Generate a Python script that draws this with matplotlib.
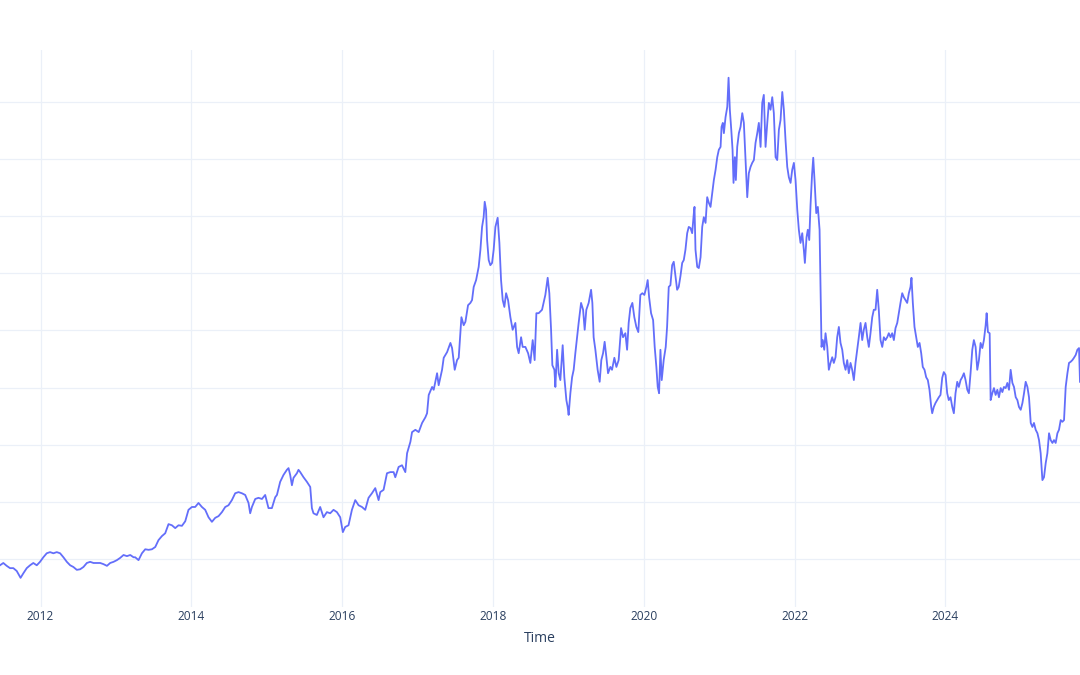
import numpy as np
import pandas as pd
import matplotlib
matplotlib.use("Agg")
import matplotlib.pyplot as plt
import matplotlib.dates as mdates

# ---- data (decimal year, value) ----
t_dec = [
    2011.462, 2011.506, 2011.551, 2011.595, 2011.639, 2011.684, 2011.735, 2011.772, 2011.817, 2011.861,
    2011.904, 2011.950, 2011.993, 2012.037, 2012.082, 2012.126, 2012.170, 2012.215, 2012.259, 2012.303,
    2012.348, 2012.392, 2012.435, 2012.480, 2012.524, 2012.568, 2012.613, 2012.657, 2012.701, 2012.746,
    2012.790, 2012.833, 2012.879, 2012.922, 2012.966, 2013.011, 2013.055, 2013.099, 2013.144, 2013.188,
    2013.232,
    2013.254, 2013.298, 2013.343, 2013.387, 2013.431, 2013.476, 2013.520, 2013.563, 2013.608, 2013.652,
    2013.696, 2013.741, 2013.785, 2013.829, 2013.874, 2013.918, 2013.961, 2014.007, 2014.050, 2014.094,
    2014.139, 2014.183, 2014.227, 2014.272, 2014.316, 2014.360, 2014.405, 2014.449, 2014.492, 2014.537,
    2014.581, 2014.625, 2014.670, 2014.714, 2014.758, 2014.780, 2014.803, 2014.847, 2014.890, 2014.936,
    2014.979, 2015.023, 2015.068, 2015.112,
    2015.135, 2015.178, 2015.222, 2015.267, 2015.289, 2015.311, 2015.334, 2015.355, 2015.400, 2015.421,
    2015.444, 2015.488, 2015.533, 2015.577, 2015.599, 2015.620, 2015.665, 2015.709, 2015.753, 2015.798,
    2015.842, 2015.886, 2015.931, 2015.975, 2016.010, 2016.041, 2016.085, 2016.130, 2016.174, 2016.218,
    2016.263, 2016.306, 2016.350, 2016.395, 2016.439, 2016.483, 2016.505, 2016.549, 2016.594, 2016.638,
    2016.682, 2016.704, 2016.748, 2016.793, 2016.837, 2016.860, 2016.904,
    2016.926, 2016.970, 2017.014, 2017.059, 2017.103, 2017.125, 2017.147, 2017.192, 2017.213, 2017.258,
    2017.279, 2017.324, 2017.346, 2017.391, 2017.435, 2017.457, 2017.492, 2017.523, 2017.545, 2017.581,
    2017.611, 2017.634, 2017.669, 2017.700, 2017.722, 2017.744, 2017.776, 2017.810, 2017.833, 2017.855,
    2017.876, 2017.890, 2017.908, 2017.922, 2017.943, 2017.965, 2017.988, 2018.009, 2018.032, 2018.062,
    2018.085, 2018.107, 2018.129, 2018.151, 2018.174, 2018.200, 2018.231, 2018.261, 2018.297, 2018.320,
    2018.341, 2018.373, 2018.394, 2018.430, 2018.466, 2018.496, 2018.527, 2018.553, 2018.576, 2018.606,
    2018.651, 2018.695,
    2018.726, 2018.748, 2018.771, 2018.788, 2018.815, 2018.828, 2018.851, 2018.872, 2018.894, 2018.925,
    2018.947, 2018.974, 2018.991, 2019.004, 2019.027, 2019.050, 2019.071, 2019.093, 2019.116, 2019.137,
    2019.169, 2019.196, 2019.217, 2019.239, 2019.270, 2019.302, 2019.319, 2019.336, 2019.359, 2019.389,
    2019.416, 2019.438, 2019.461, 2019.482, 2019.505, 2019.527, 2019.558, 2019.580, 2019.611, 2019.638,
    2019.668, 2019.700, 2019.726, 2019.757, 2019.780, 2019.801, 2019.823, 2019.850, 2019.876, 2019.903,
    2019.929, 2019.956, 2019.983, 2020.009, 2020.036, 2020.053, 2020.072, 2020.098, 2020.125, 2020.146,
    2020.168, 2020.186, 2020.204, 2020.222, 2020.239, 2020.265, 2020.292, 2020.310, 2020.332, 2020.354,
    2020.377, 2020.398, 2020.421, 2020.443, 2020.464, 2020.487,
    2020.510, 2020.531, 2020.553, 2020.576, 2020.597, 2020.620, 2020.642, 2020.664, 2020.673, 2020.686,
    2020.709, 2020.730, 2020.753, 2020.775, 2020.796, 2020.819, 2020.841, 2020.863, 2020.885, 2020.908,
    2020.929, 2020.952, 2020.974, 2020.995, 2021.018, 2021.031, 2021.048, 2021.062, 2021.084, 2021.107,
    2021.124, 2021.141, 2021.160, 2021.177, 2021.190, 2021.208, 2021.221, 2021.239, 2021.261, 2021.283,
    2021.306, 2021.327, 2021.350, 2021.372, 2021.393, 2021.416, 2021.438, 2021.460, 2021.482, 2021.505,
    2021.526, 2021.549, 2021.571, 2021.592, 2021.615, 2021.638, 2021.659, 2021.681, 2021.704, 2021.725,
    2021.748, 2021.770, 2021.792, 2021.814, 2021.837, 2021.858, 2021.880, 2021.903, 2021.924, 2021.947,
    2021.969, 2021.991, 2022.013, 2022.036, 2022.057, 2022.079, 2022.102, 2022.123, 2022.137, 2022.159,
    2022.176, 2022.195, 2022.212,
    2022.232, 2022.248, 2022.265, 2022.288, 2022.309, 2022.332, 2022.345, 2022.358, 2022.375, 2022.394,
    2022.411, 2022.434, 2022.455, 2022.477, 2022.500, 2022.521, 2022.544, 2022.566, 2022.588, 2022.610,
    2022.633, 2022.654, 2022.677, 2022.699, 2022.720, 2022.743, 2022.765, 2022.787, 2022.809, 2022.832,
    2022.853, 2022.876, 2022.898, 2022.919, 2022.942, 2022.965, 2022.986, 2023.008, 2023.031, 2023.052,
    2023.075, 2023.097, 2023.118, 2023.141, 2023.164, 2023.185, 2023.207, 2023.230, 2023.251, 2023.274,
    2023.296, 2023.318, 2023.340, 2023.363, 2023.384, 2023.406, 2023.429, 2023.450, 2023.473, 2023.495,
    2023.517, 2023.539, 2023.552, 2023.570, 2023.592, 2023.615, 2023.636, 2023.659, 2023.681, 2023.702,
    2023.725, 2023.747, 2023.769, 2023.791, 2023.814, 2023.827, 2023.848, 2023.871, 2023.893, 2023.915,
    2023.937, 2023.960, 2023.981, 2024.004,
    2024.026, 2024.047, 2024.070, 2024.093, 2024.114, 2024.136, 2024.159, 2024.180, 2024.203, 2024.225,
    2024.247, 2024.269, 2024.292, 2024.313, 2024.335, 2024.358, 2024.379, 2024.402, 2024.424, 2024.446,
    2024.468, 2024.491, 2024.512, 2024.535, 2024.548, 2024.565, 2024.588, 2024.601, 2024.623, 2024.645,
    2024.667, 2024.690, 2024.711, 2024.734, 2024.756, 2024.777, 2024.800, 2024.822, 2024.844, 2024.866,
    2024.889, 2024.910, 2024.933, 2024.955, 2024.976, 2024.999, 2025.022, 2025.043, 2025.065, 2025.088,
    2025.109, 2025.132, 2025.154, 2025.175, 2025.198, 2025.221, 2025.242, 2025.264, 2025.287, 2025.308,
    2025.331, 2025.353, 2025.375, 2025.397, 2025.420, 2025.441, 2025.463, 2025.486, 2025.507, 2025.530,
    2025.552, 2025.574, 2025.596, 2025.619, 2025.640, 2025.662, 2025.685, 2025.706, 2025.729, 2025.751,
    2025.773, 2025.786,
]

values = [
    8.9, 9.3, 8.8, 8.4, 8.4, 7.9, 6.7, 7.5, 8.4, 8.9,
    9.3, 8.9, 9.5, 10.3, 11.0, 11.2, 11.0, 11.2, 11.0, 10.3,
    9.5, 8.9, 8.6, 8.1, 8.2, 8.6, 9.3, 9.5, 9.3, 9.3,
    9.3, 9.1, 8.8, 9.3, 9.5, 9.8, 10.2, 10.7, 10.5, 10.7,
    10.3,
    10.3, 9.8, 11.0, 11.7, 11.6, 11.7, 12.1, 13.3, 14.0, 14.5,
    16.1, 15.9, 15.4, 15.9, 15.8, 16.6, 18.6, 19.1, 19.1, 19.8,
    19.1, 18.6, 17.3, 16.5, 17.2, 17.5, 18.2, 19.1, 19.4, 20.3,
    21.5, 21.7, 21.5, 21.2, 19.8, 18.0, 19.1, 20.5, 20.7, 20.5,
    21.2, 18.9, 18.9, 20.8,
    21.2, 23.5, 24.7, 25.6, 25.9, 24.7, 22.9, 24.2, 25.0, 25.6,
    25.2, 24.3, 23.5, 22.6, 18.9, 18.0, 17.7, 19.1, 17.3, 18.2,
    18.0, 18.6, 18.2, 17.3, 14.7, 15.6, 15.9, 18.6, 20.3, 19.4,
    19.1, 18.6, 20.7, 21.5, 22.4, 20.3, 21.7, 22.1, 25.0, 25.2,
    25.2, 24.3, 26.1, 26.4, 25.2, 28.5, 30.5,
    32.2, 32.6, 32.2, 33.8, 34.8, 35.5, 38.7, 40.1, 39.6, 42.5,
    40.4, 43.1, 45.2, 46.2, 47.8, 46.9, 43.1, 44.8, 45.2, 52.3,
    50.9, 51.5, 54.4, 54.8, 55.3, 57.6, 58.8, 61.1, 64.1, 68.1,
    69.8, 72.5, 71.1, 65.8, 62.3, 61.4, 61.8, 64.1, 68.1, 69.7,
    65.3, 58.8, 55.3, 54.1, 56.5, 55.3, 52.3, 50.1, 51.3, 47.1,
    46.0, 48.8, 47.1, 47.1, 46.0, 44.3, 48.3, 44.8, 53.0, 53.0,
    53.6, 56.2,
    59.2, 56.5, 50.1, 43.9, 43.1, 40.1, 46.6, 42.5, 41.3, 47.4,
    41.8, 37.8, 36.6, 35.2, 39.0, 41.8, 43.1, 46.0, 48.8, 51.3,
    54.8, 53.6, 50.1, 53.6, 54.8, 57.1, 54.8, 48.8, 46.6, 43.1,
    41.0, 44.8, 46.0, 48.0, 45.3, 42.5, 43.6, 43.1, 45.2, 43.6,
    44.8, 50.4, 48.8, 49.5, 46.6, 51.3, 53.9, 54.8, 52.3, 50.6,
    49.7, 56.2, 56.5, 56.2, 57.6, 58.8, 55.8, 53.0, 51.8, 47.1,
    43.6, 40.1, 39.0, 46.6, 41.3, 44.8, 47.1, 50.6, 57.6, 57.9,
    61.4, 62.0, 59.5, 57.1, 57.6, 59.5,
    61.8, 62.3, 64.1, 67.0, 68.1, 67.9, 67.0, 70.5, 71.6, 64.1,
    61.1, 60.9, 62.8, 68.1, 69.8, 68.8, 73.3, 72.3, 71.6, 74.0,
    76.3, 78.1, 80.3, 81.6, 82.1, 85.6, 86.3, 84.5, 87.3, 89.1,
    94.2, 88.6, 85.1, 81.6, 75.8, 80.3, 76.3, 82.1, 84.5, 85.6,
    88.0, 86.3, 79.8, 73.3, 77.5, 78.6, 79.3, 79.8, 82.8, 84.5,
    86.3, 82.1, 89.8, 91.2, 82.1, 86.3, 89.8, 88.6, 90.8, 88.0,
    80.3, 79.8, 85.1, 86.8, 91.7, 88.6, 83.3, 78.6, 76.8, 75.8,
    78.1, 79.3, 76.3, 71.1, 67.6, 65.3, 67.0, 64.1, 61.8, 66.3,
    67.6, 65.8, 71.9,
    77.2, 80.2, 76.3, 70.5, 71.6, 67.6, 57.1, 47.1, 48.3, 46.6,
    49.5, 47.1, 43.1, 44.3, 45.3, 44.3, 45.3, 48.8, 50.6, 47.8,
    46.6, 44.3, 43.1, 44.8, 42.5, 44.3, 43.1, 41.3, 44.3, 46.6,
    48.8, 51.3, 48.3, 50.1, 51.3, 48.8, 47.1, 49.5, 52.3, 53.6,
    53.6, 57.1, 53.6, 48.3, 47.1, 48.8, 48.3, 48.8, 49.5, 48.8,
    49.5, 48.3, 50.4, 51.3, 53.0, 54.8, 56.5, 55.8, 55.3, 54.8,
    56.5, 57.6, 59.2, 54.8, 50.6, 48.8, 47.1, 47.8, 46.0, 43.6,
    43.1, 41.8, 41.3, 39.6, 36.6, 35.5, 36.6, 37.3, 37.8, 38.3,
    38.7, 41.7, 42.7, 42.2,
    39.0, 37.8, 38.3, 36.6, 35.5, 39.0, 41.0, 40.1, 41.3, 41.8,
    42.5, 41.3, 39.6, 39.0, 42.5, 46.6, 48.3, 47.1, 43.1, 44.8,
    47.8, 46.9, 48.3, 50.9, 53.0, 49.7, 49.5, 37.8, 39.0, 39.9,
    38.7, 39.6, 38.3, 39.9, 39.2, 40.1, 39.9, 40.8, 39.6, 43.1,
    40.8, 40.1, 38.3, 37.8, 36.6, 36.1, 37.3, 39.0, 41.0, 40.1,
    38.3, 33.8, 33.1, 33.8, 32.6, 32.0, 30.8, 28.5, 23.8, 24.3,
    26.8, 28.5, 32.0, 30.8, 30.3, 30.8, 30.3, 32.0, 32.6, 34.3,
    34.0, 34.3, 40.1, 42.5, 44.3, 44.5, 44.8, 45.2, 45.7, 46.6,
    46.9, 41.0,
]

y_grid = [10, 20, 30, 40, 50, 60, 70, 80, 90]
y_range = (1.6, 99.05)
x_label = "Time"

# ---- helpers ----
def dec_to_dt(ts):
    out = []
    for t in ts:
        y = int(np.floor(t))
        s = pd.Timestamp(y, 1, 1)
        e = pd.Timestamp(y + 1, 1, 1)
        out.append(s + (e - s) * (t - y))
    return out

dates = dec_to_dt(t_dec)

FONT = "Open Sans"
TXT = "#2a3f5f"
GRID = "#ebf0f8"

fig = plt.figure(figsize=(10.8, 6.75), dpi=100)
fig.patch.set_facecolor("white")
ax = fig.add_axes([0.0, 68 / 675, 1.0, 557 / 675])
ax.set_facecolor("white")

ax.plot(dates, values, color="#636efa", lw=1.3, solid_joinstyle="round", zorder=3)

ax.set_ylim(*y_range)
ax.set_xlim(dates[0], dates[-1])

ax.set_yticks(y_grid)
ax.set_yticklabels([])
ax.xaxis.set_major_locator(mdates.YearLocator(2))
ax.xaxis.set_major_formatter(mdates.DateFormatter("%Y"))

ax.grid(True, color=GRID, lw=0.9)
ax.set_axisbelow(True)
for sp in ax.spines.values():
    sp.set_visible(False)
ax.tick_params(axis="both", length=0)
ax.tick_params(axis="x", pad=2, labelsize=8.6, labelcolor=TXT)
for lab in ax.get_xticklabels():
    lab.set_fontfamily(FONT)

ax.set_xlabel(x_label, fontsize=10, color=TXT, fontfamily=FONT)
ax.xaxis.label.set_va("center")
ax.xaxis.set_label_coords(0.5, -(638 - 607) / 557)

fig.savefig("out.png", dpi=100, facecolor="white")
